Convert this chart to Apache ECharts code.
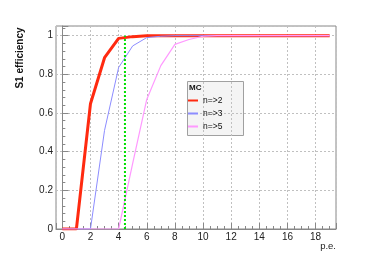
<!DOCTYPE html>
<html>
<head>
<meta charset="utf-8">
<script src="https://cdn.jsdelivr.net/npm/echarts@6/dist/echarts.min.js"></script>
<style>
html,body{margin:0;padding:0;background:#fff;}
#c{width:374px;height:270px;}
</style>
</head>
<body>
<div id="c"></div>
<script>
// ---- data ----
const pe = [0,1,2,3,4,5,6,7,8,9,10,11,12,13,14,15,16,17,18,19];
const effN2 = [0,0,0.648,0.886,0.986,0.995,0.999,1,1,1,1,1,1,1,1,1,1,1,1,1];
const effN3 = [0,0,0,0.51,0.835,0.947,0.99,0.997,1,1,1,1,1,1,1,1,1,1,1,1];
const effN5 = [0,0,0,0,0,0.34,0.67,0.845,0.955,0.98,0.997,1,1,1,1,1,1,1,1,1];
const seriesNames = ['n=>2','n=>3','n=>5'];
const cutX = [4.45, 4.45];
const cutY = [0, 1];
const yTitle = 'S1 efficiency';
const xTitle = 'p.e.';
const legendTitle = 'MC';

const FONT = '"Liberation Sans", Arial, Helvetica, sans-serif';
const pairs = (xs, ys) => xs.map((x, i) => [x, ys[i]]);

const chart = echarts.init(document.getElementById('c'), null, {renderer: 'canvas'});
const axisGrey = '#888';
const gridLine = {show: true, lineStyle: {color: '#c0c0c0', type: [2, 2], width: 1}};

chart.setOption({
  animation: false,
  grid: {left: 56, top: 26, right: 38, bottom: 41, show: true, borderColor: axisGrey, borderWidth: 1, containLabel: false},
  xAxis: {
    type: 'value', min: -0.45, max: 19.45, splitNumber: 10, minInterval: 2, maxInterval: 2,
    axisLine: {show: true, lineStyle: {color: axisGrey}},
    axisTick: {show: true, inside: true, length: 6, lineStyle: {color: axisGrey}},
    minorTick: {show: true, splitNumber: 4, length: 3, lineStyle: {color: axisGrey}},
    splitLine: gridLine,
    axisLabel: {
      margin: 3, color: '#222', fontSize: 10, fontFamily: FONT,
      formatter: v => (Math.abs(v - Math.round(v)) < 1e-6 ? String(Math.round(v)) : '')
    }
  },
  yAxis: {
    type: 'value', min: 0, max: 1.05, interval: 0.2,
    axisLine: {show: true, lineStyle: {color: axisGrey}},
    axisTick: {show: true, inside: true, length: 6, lineStyle: {color: axisGrey}},
    minorTick: {show: true, splitNumber: 5, length: 3, lineStyle: {color: axisGrey}},
    splitLine: gridLine,
    axisLabel: {
      margin: 3, color: '#222', fontSize: 10, fontFamily: FONT,
      formatter: v => (v > 1.001 ? '' : String(Math.round(v * 10) / 10))
    }
  },
  legend: {
    data: seriesNames, orient: 'vertical', left: 187, top: 96,
    itemWidth: 10, itemHeight: 10, itemGap: 4, padding: 0,
    itemStyle: {opacity: 0},
    textStyle: {fontSize: 8.5, color: '#111', fontFamily: FONT}
  },
  graphic: [
    {type: 'rect', left: 187, top: 81, z: 0, zlevel: 0,
     shape: {width: 56, height: 54},
     style: {fill: '#f4f4f4', stroke: '#a0a0a0', lineWidth: 1}},
    {type: 'text', left: 189, top: 84, z: 1,
     style: {text: legendTitle, font: 'bold 8px ' + FONT, fill: '#111'}},
    {type: 'text', x: 20, y: 58, rotation: Math.PI / 2, z: 1,
     style: {text: yTitle, font: 'bold 10px ' + FONT, fill: '#111', align: 'center', verticalAlign: 'middle'}},
    {type: 'text', right: 38, top: 241, z: 1,
     style: {text: xTitle, font: '9.5px ' + FONT, fill: '#222'}}
  ],
  series: [
    {name: seriesNames[0], type: 'line', data: pairs(pe, effN2), symbol: 'none', z: 3,
     lineStyle: {color: '#ff2a10', width: 3}, itemStyle: {color: '#ff2a10'}},
    {name: seriesNames[1], type: 'line', data: pairs(pe, effN3), symbol: 'none', z: 4,
     lineStyle: {color: '#8c8cff', width: 1}, itemStyle: {color: '#8c8cff'}},
    {name: seriesNames[2], type: 'line', data: pairs(pe, effN5), symbol: 'none', z: 5,
     lineStyle: {color: '#ff99ff', width: 1.2}, itemStyle: {color: '#ff99ff'}},
    {name: 'cut', type: 'line', data: pairs(cutX, cutY), symbol: 'none', z: 6,
     lineStyle: {color: '#00e000', width: 2, type: [2, 2]}}
  ]
});
</script>
</body>
</html>
